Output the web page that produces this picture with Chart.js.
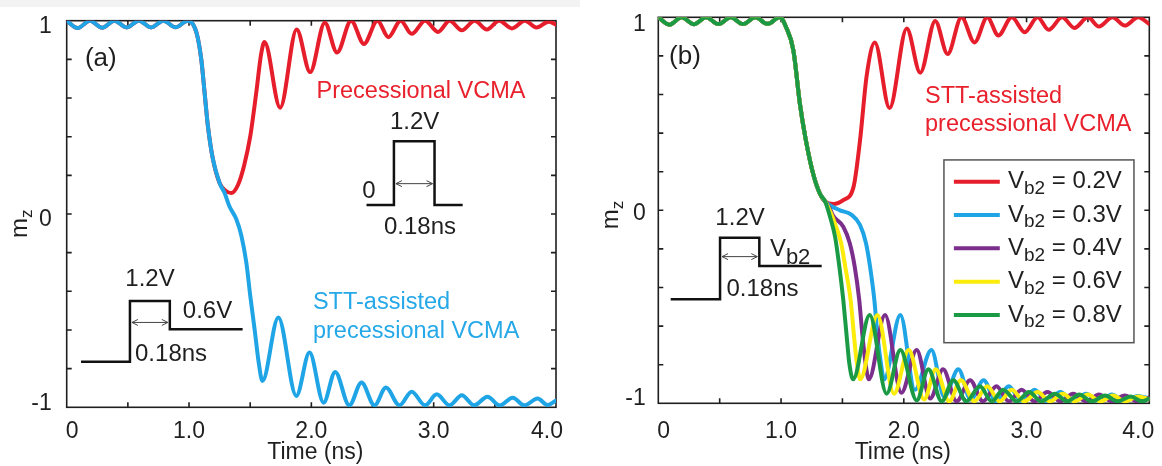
<!DOCTYPE html>
<html>
<head>
<meta charset="utf-8">
<title>m_z switching trajectories</title>
<script src="https://cdn.jsdelivr.net/npm/chart.js@4.4.1/dist/chart.umd.min.js"></script>
<style>
  html, body { margin: 0; padding: 0; background: #fff; }
  #wrap { position: relative; width: 1162px; height: 466px; overflow: hidden; background: #fff; }
  #band { position: absolute; left: 0; top: 0; width: 580px; height: 7px; background: #f3f3f3; }
  canvas { position: absolute; top: 0; }
  #chartA { left: 0; }
  #chartB { left: 580px; }
</style>
</head>
<body>
<div id="wrap">
  <div id="band"></div>
  <canvas id="chartA" width="580" height="466"></canvas>
  <canvas id="chartB" width="582" height="466"></canvas>
</div>
<script>
// ---- data: time in ns, m_z ----

// precession about +z before the pulse (shared by every trace)
const precessT = [0, 0.09, 0.19, 0.29, 0.39, 0.49, 0.59, 0.69, 0.79, 0.89, 0.99];
const precessM = [1, 0.962, 1, 0.964, 1, 0.965, 1, 0.965, 1, 0.966, 1];

// (a) common fall once the 1.2V pulse starts
const fallT_a = [1.06, 1.10, 1.127, 1.154, 1.195, 1.25];
const fallM_a = [0.94, 0.80, 0.63, 0.457, 0.285, 0.16];

// (a) STT-assisted precessional VCMA
const sttT_a = [1.29, 1.33, 1.386, 1.427, 1.468, 1.50, 1.536, 1.57, 1.60, 1.73, 1.877, 1.985, 2.10, 2.195, 2.31, 2.41, 2.516, 2.61, 2.72,
  2.82, 2.93, 3.025, 3.13, 3.23, 3.33, 3.44, 3.54, 3.646, 3.74, 3.85, 3.93, 4.0];
const sttM_a = [0.11, 0.04, -0.026, -0.11, -0.25, -0.42, -0.596, -0.77, -0.864, -0.535, -0.941, -0.717, -0.976, -0.817, -0.99, -0.872, -0.99, -0.898, -0.99,
  -0.919, -0.99, -0.933, -0.99, -0.938, -0.99, -0.945, -0.99, -0.95, -0.99, -0.955, -0.988, -0.965];

// (a) precessional VCMA only
const precT_a = [1.30, 1.345, 1.40, 1.45, 1.50, 1.55, 1.59, 1.617, 1.745, 1.88, 1.99, 2.11, 2.21, 2.325, 2.43, 2.54, 2.63, 2.73,
  2.82, 2.93, 3.035, 3.13, 3.23, 3.335, 3.435, 3.535, 3.64, 3.745, 3.84, 3.94, 4.0];
const precM_a = [0.12, 0.108, 0.15, 0.25, 0.40, 0.63, 0.83, 0.89, 0.55, 0.955, 0.734, 0.99, 0.835, 1.0, 0.88, 1.0, 0.915, 1.0,
  0.932, 1.0, 0.942, 1.0, 0.95, 1.0, 0.955, 1.0, 0.96, 1.0, 0.965, 0.995, 0.98];

// (b) common fall
const fallT_b = [1.04, 1.10, 1.154, 1.20, 1.263, 1.317, 1.36];
const fallM_b = [0.95, 0.83, 0.55, 0.37, 0.185, 0.085, 0.045];

// (b) one tail per second-step voltage Vb2
const vb02T = [1.426, 1.507, 1.59, 1.643, 1.698, 1.764, 1.884, 2.024, 2.134, 2.256, 2.357, 2.47, 2.576, 2.68, 2.77, 2.88,
  2.985, 3.09, 3.18, 3.29, 3.39, 3.5, 3.59, 3.7, 3.8, 3.91, 4.0];
const vb02M = [0.033, 0.053, 0.12, 0.36, 0.70, 0.87, 0.53, 0.942, 0.713, 0.981, 0.81, 1.0, 0.87, 1.0, 0.906, 1.0,
  0.923, 1.0, 0.935, 1.0, 0.945, 1.0, 0.952, 1.0, 0.957, 1.0, 0.965];

const vb03T = [1.40, 1.48, 1.575, 1.643, 1.692, 1.725, 1.76, 1.784, 1.806, 1.84, 1.972, 2.09, 2.225, 2.33, 2.445, 2.545, 2.65, 2.75, 2.855, 2.96,
  3.065, 3.17, 3.275, 3.38, 3.485, 3.59, 3.695, 3.8, 3.905, 4.0];
const vb03M = [0.025, 0.0, -0.024, -0.076, -0.171, -0.292, -0.465, -0.637, -0.758, -0.876, -0.542, -0.93, -0.724, -0.966, -0.824, -0.98, -0.88, -0.988, -0.912, -0.99,
  -0.93, -0.99, -0.942, -0.99, -0.95, -0.99, -0.955, -0.99, -0.962, -0.975];

const vb04T = [1.40, 1.426, 1.507, 1.56, 1.60, 1.637, 1.664, 1.69, 1.715, 1.847, 1.98, 2.105, 2.215, 2.32, 2.43, 2.54, 2.645, 2.755, 2.855,
  2.96, 3.065, 3.17, 3.275, 3.38, 3.485, 3.59, 3.695, 3.80, 3.905, 4.0];
const vb04M = [0.005, -0.03, -0.085, -0.171, -0.292, -0.465, -0.655, -0.80, -0.876, -0.542, -0.945, -0.724, -0.975, -0.824, -0.99, -0.88, -0.99, -0.912, -0.99,
  -0.93, -0.99, -0.942, -0.99, -0.95, -0.99, -0.955, -0.99, -0.96, -0.99, -0.97];

const vb06T = [1.40, 1.44, 1.49, 1.525, 1.567, 1.595, 1.617, 1.645, 1.785, 1.92, 2.04, 2.165, 2.26, 2.37, 2.465, 2.575, 2.68, 2.78,
  2.88, 2.98, 3.09, 3.19, 3.295, 3.39, 3.5, 3.6, 3.705, 3.8, 3.91, 4.0];
const vb06M = [-0.005, -0.07, -0.171, -0.30, -0.465, -0.655, -0.79, -0.876, -0.542, -0.95, -0.724, -0.98, -0.824, -0.99, -0.88, -0.99, -0.912, -0.99,
  -0.93, -0.99, -0.942, -0.99, -0.95, -0.99, -0.955, -0.99, -0.96, -0.99, -0.965, -0.98];

const vb08T = [1.399, 1.44, 1.475, 1.507, 1.535, 1.556, 1.587, 1.722, 1.86, 1.972, 2.105, 2.2, 2.309, 2.403, 2.51, 2.62, 2.716,
  2.81, 2.92, 3.02, 3.12, 3.23, 3.33, 3.43, 3.53, 3.64, 3.74, 3.85, 3.94, 4.0];
const vb08M = [-0.033, -0.137, -0.292, -0.465, -0.655, -0.793, -0.876, -0.542, -0.95, -0.724, -0.985, -0.824, -0.99, -0.88, -0.99, -0.912, -0.99,
  -0.93, -0.99, -0.942, -0.99, -0.95, -0.99, -0.955, -0.99, -0.96, -0.99, -0.965, -0.99, -0.975];

const vb2Levels = ['0.2V', '0.3V', '0.4V', '0.6V', '0.8V'];
const vb2Tails = [[vb02T, vb02M], [vb03T, vb03M], [vb04T, vb04M], [vb06T, vb06M], [vb08T, vb08M]];

// axes
const xTickValues = [0, 1, 2, 3, 4];
const xTickText = ['0', '1.0', '2.0', '3.0', '4.0'];
const xMinorTicks = [0.5, 1, 1.5, 2, 2.5, 3, 3.5];
const yTickValues = [-1, 0, 1];
const yTickText = ['-1', '0', '1'];
const yMinorTicks = [-0.8, -0.6, -0.4, -0.2, 0, 0.2, 0.4, 0.6, 0.8];

// ---- styling ----
const FONT = '"Liberation Sans", Arial, Helvetica, sans-serif';
const INK = '#1f1f1f';
const RED = '#e61e2b';
const BLUE = '#1fa5e6';
const PURPLE = '#7b2e8c';
const YELLOW = '#fbec0c';
const GREEN = '#1b9a46';
const vb2Colors = [RED, BLUE, PURPLE, YELLOW, GREEN];

const series = (ts, ms) => ts.map((t, i) => ({ x: t, y: ms[i] }));

function text(ctx, str, x, y, size, color, align) {
  ctx.font = size + 'px ' + FONT;
  ctx.fillStyle = color;
  ctx.textAlign = align || 'left';
  ctx.textBaseline = 'middle';
  ctx.fillText(str, x, y);
}

// base text, lowered subscript, optional tail ("V" "b2" " = 0.2V")
function subText(ctx, base, sub, tail, x, y, size, subSize, drop, color) {
  ctx.fillStyle = color;
  ctx.textAlign = 'left';
  ctx.textBaseline = 'middle';
  ctx.font = size + 'px ' + FONT;
  ctx.fillText(base, x, y);
  x += ctx.measureText(base).width;
  ctx.font = subSize + 'px ' + FONT;
  ctx.fillText(sub, x, y + drop);
  x += ctx.measureText(sub).width;
  if (tail) {
    ctx.font = size + 'px ' + FONT;
    ctx.fillText(tail, x, y);
  }
}

function pulse(ctx, pts, X, Y) {
  ctx.strokeStyle = '#111';
  ctx.lineWidth = 2.5;
  ctx.lineJoin = 'miter';
  ctx.beginPath();
  pts.forEach(([t, m], i) => (i ? ctx.lineTo(X(t), Y(m)) : ctx.moveTo(X(t), Y(m))));
  ctx.stroke();
}

function arrow(ctx, x1, x2, y) {
  x1 += 2; x2 -= 2;
  ctx.strokeStyle = '#444';
  ctx.lineWidth = 1;
  ctx.beginPath();
  ctx.moveTo(x1, y); ctx.lineTo(x2, y);
  ctx.moveTo(x1 + 6, y - 3); ctx.lineTo(x1, y); ctx.lineTo(x1 + 6, y + 3);
  ctx.moveTo(x2 - 6, y - 3); ctx.lineTo(x2, y); ctx.lineTo(x2 - 6, y + 3);
  ctx.stroke();
}

// box, inward ticks on all four sides, tick labels and axis titles
function makeFrame(L) {
  return {
    id: 'frame',
    beforeDatasetsDraw(chart) {
      const { ctx, chartArea: a, scales: { x, y } } = chart;
      ctx.save();
      ctx.strokeStyle = INK;
      ctx.lineWidth = 1.6;
      ctx.strokeRect(a.left, a.top, a.right - a.left, a.bottom - a.top);

      ctx.beginPath();
      xMinorTicks.forEach((v) => {
        const px = x.getPixelForValue(v);
        ctx.moveTo(px, a.bottom); ctx.lineTo(px, a.bottom - 5);
        ctx.moveTo(px, a.top); ctx.lineTo(px, a.top + 5);
      });
      yMinorTicks.forEach((v) => {
        const py = y.getPixelForValue(v);
        ctx.moveTo(a.left, py); ctx.lineTo(a.left + 5, py);
        ctx.moveTo(a.right, py); ctx.lineTo(a.right - 5, py);
      });
      ctx.stroke();

      xTickValues.forEach((v, i) => {
        const px = x.getPixelForValue(v);
        const last = i === xTickValues.length - 1;
        if (i === 0) text(ctx, xTickText[i], px - 1, a.bottom + L.xLabelDy, 23, INK, 'left');
        else if (last) text(ctx, xTickText[i], px + L.lastLabelDx, a.bottom + L.xLabelDy, 23, INK, 'right');
        else text(ctx, xTickText[i], px, a.bottom + L.xLabelDy, 23, INK, 'center');
      });
      yTickValues.forEach((v, i) => {
        const py = y.getPixelForValue(v) + L.yLabelNudge[i];
        text(ctx, yTickText[i], a.left - L.yLabelGap, py, 23, INK, 'right');
      });

      text(ctx, 'Time (ns)', (a.left + a.right) / 2 + L.titleDx, a.bottom + L.titleDy, 23, INK, 'center');

      ctx.translate(a.left + L.mzDx, y.getPixelForValue(0) + L.mzDy);
      ctx.rotate(-Math.PI / 2);
      ctx.fillStyle = INK;
      ctx.textAlign = 'left';
      ctx.textBaseline = 'alphabetic';
      ctx.font = '24px ' + FONT;
      ctx.fillText('m', 0, 0);
      const w = ctx.measureText('m').width;
      ctx.font = '17px ' + FONT;
      ctx.fillText('z', w, 5);
      ctx.restore();
    },
  };
}

function makeNotes(draw) {
  return {
    id: 'notes',
    afterDatasetsDraw(chart) {
      const { ctx, scales: { x, y } } = chart;
      ctx.save();
      draw(ctx, (v) => x.getPixelForValue(v), (v) => y.getPixelForValue(v));
      ctx.restore();
    },
  };
}

function buildPanel(canvasId, datasets, L, notes) {
  return new Chart(document.getElementById(canvasId).getContext('2d'), {
    type: 'line',
    data: { datasets },
    options: {
      responsive: false,
      animation: false,
      events: [],
      layout: { padding: { top: L.padTop, right: L.padRight, left: 0, bottom: 0 } },
      plugins: { legend: { display: false }, tooltip: { enabled: false } },
      elements: {
        point: { radius: 0 },
        line: { borderWidth: 4, cubicInterpolationMode: 'monotone', borderCapStyle: 'round', borderJoinStyle: 'round' },
      },
      scales: {
        x: {
          type: 'linear', min: 0, max: 4,
          ticks: { display: false },
          grid: { display: false, drawTicks: false },
          border: { display: false },
          afterFit: (s) => { s.height = L.xAxisH; s.paddingLeft = 0; s.paddingRight = 0; },
        },
        y: {
          type: 'linear', min: -1, max: 1,
          ticks: { display: false },
          grid: { display: false, drawTicks: false },
          border: { display: false },
          afterFit: (s) => { s.width = L.yAxisW; s.paddingTop = 0; s.paddingBottom = 0; },
        },
      },
    },
    plugins: [makeFrame(L), makeNotes(notes)],
  });
}

// ---- panel (a) ----
const startA = [precessT.concat(fallT_a), precessM.concat(fallM_a)];
buildPanel('chartA', [
  { label: 'STT-assisted precessional VCMA', borderColor: BLUE,
    data: series(startA[0].concat(sttT_a), startA[1].concat(sttM_a)) },
  { label: 'Precessional VCMA', borderColor: RED,
    data: series(startA[0].concat(precT_a), startA[1].concat(precM_a)) },
], {
  padTop: 20.7, padRight: 24, yAxisW: 66.7, xAxisH: 58.7,
  xLabelDy: 24.5, lastLabelDx: 7, yLabelGap: 15, yLabelNudge: [-4, 6, 6],
  titleDx: 4, titleDy: 45.7, mzDx: -40, mzDy: 24,
}, (ctx, X, Y) => {
  text(ctx, '(a)', X(0.279), Y(0.805), 26, INK, 'center');
  text(ctx, 'Precessional VCMA', X(2.042), Y(0.636), 23.5, '#e8212c');
  text(ctx, 'STT-assisted', X(2.013), Y(-0.46), 23.5, '#25a8e8');
  text(ctx, 'precessional VCMA', X(2.013), Y(-0.61), 23.5, '#25a8e8');

  // single 1.2V pulse
  pulse(ctx, [[2.451, 0.047], [2.675, 0.047], [2.675, 0.377], [3.007, 0.377], [3.007, 0.047], [3.237, 0.047]], X, Y);
  arrow(ctx, X(2.675), X(3.007), Y(0.157));
  text(ctx, '1.2V', X(2.844), Y(0.472), 24, INK, 'center');
  text(ctx, '0', X(2.471), Y(0.115), 24, INK, 'center');
  text(ctx, '0.18ns', X(2.888), Y(-0.07), 24, INK, 'center');

  // 1.2V pulse followed by a 0.6V step
  pulse(ctx, [[0.117, -0.765], [0.517, -0.765], [0.517, -0.45], [0.843, -0.45], [0.843, -0.596], [1.438, -0.596]], X, Y);
  arrow(ctx, X(0.517), X(0.843), Y(-0.561));
  text(ctx, '1.2V', X(0.681), Y(-0.336), 24, INK, 'center');
  text(ctx, '0.6V', X(1.151), Y(-0.502), 24, INK, 'center');
  text(ctx, '0.18ns', X(0.853), Y(-0.724), 24, INK, 'center');
});

// ---- panel (b) ----
const startB = [precessT.concat(fallT_b), precessM.concat(fallM_b)];
// first dataset is painted last, so Vb2 = 0.8V ends up on top
const setsB = vb2Levels.map((lv, i) => ({
  label: 'Vb2 = ' + lv,
  borderColor: vb2Colors[i],
  data: series(startB[0].concat(vb2Tails[i][0]), startB[1].concat(vb2Tails[i][1])),
})).reverse();

buildPanel('chartB', setsB, {
  padTop: 17.3, padRight: 12.7, yAxisW: 78.3, xAxisH: 62.7,
  xLabelDy: 28.4, lastLabelDx: 5, yLabelGap: 12.5, yLabelNudge: [-5, 3, 7.5],
  titleDx: -1, titleDy: 49.7, mzDx: -40.3, mzDy: 19,
}, (ctx, X, Y) => {
  text(ctx, '(b)', X(0.217), Y(0.796), 26, INK, 'center');
  text(ctx, 'STT-assisted', X(2.173), Y(0.588), 23.5, '#e8212c');
  text(ctx, 'precessional VCMA', X(2.173), Y(0.442), 23.5, '#e8212c');

  pulse(ctx, [[0.101, -0.461], [0.503, -0.461], [0.503, -0.142], [0.823, -0.142], [0.823, -0.289], [1.331, -0.289]], X, Y);
  arrow(ctx, X(0.503), X(0.823), Y(-0.240));
  text(ctx, '1.2V', X(0.666), Y(-0.041), 24, INK, 'center');
  subText(ctx, 'V', 'b2', '', X(0.909), Y(-0.205), 24, 22, 8, INK);
  text(ctx, '0.18ns', X(0.849), Y(-0.409), 24, INK, 'center');

  // legend
  const bx = X(2.327), by = Y(0.261), bw = X(3.875) - bx, bh = Y(-0.686) - by;
  ctx.fillStyle = '#fff';
  ctx.fillRect(bx, by, bw, bh);
  ctx.strokeStyle = '#555';
  ctx.lineWidth = 1.5;
  ctx.strokeRect(bx, by, bw, bh);
  const rowY0 = Y(0.148);
  vb2Levels.forEach((lv, i) => {
    const ry = rowY0 + i * 33.3;
    ctx.strokeStyle = vb2Colors[i];
    ctx.lineWidth = 4;
    ctx.beginPath();
    ctx.moveTo(X(2.408), ry);
    ctx.lineTo(X(2.782), ry);
    ctx.stroke();
    subText(ctx, 'V', 'b2', ' = ' + lv, X(2.848), ry, 24, 19, 7, INK);
  });
});
</script>
</body>
</html>
